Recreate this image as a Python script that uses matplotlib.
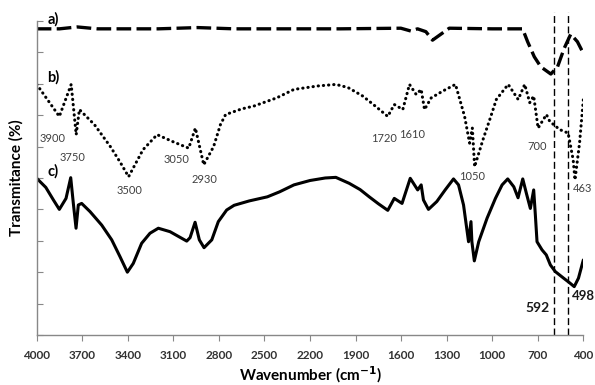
import matplotlib
matplotlib.use("Agg")
import matplotlib.pyplot as plt

plt.rcParams['font.family'] = ['Lato', 'DejaVu Sans']

# Spectrum a) – dashed trace
wn_a = [4000, 3850, 3733, 3600, 3200, 2940, 2700, 2000, 1602, 1536, 1492, 1437,
        1393, 1338, 1283, 1000, 850, 800, 767, 723, 680, 614, 570, 526, 483,
        439, 400]
tr_a = [97.5, 97.5, 98.1, 97.5, 97.5, 97.9, 97.5, 97.5, 97.7, 96.8, 97.5, 96.6,
        93.9, 95.8, 97.7, 97.5, 97.5, 97.5, 93.4, 88.6, 85.4, 83.1, 85.4, 91.3,
        95.8, 93.4, 89.7]

# Spectrum b) – dotted trace
wn_b = [4000, 3851, 3773, 3740, 3719, 3620, 3515, 3450, 3395, 3300, 3207, 3100,
        2999, 2955, 2900, 2835, 2790, 2756, 2650, 2570, 2420, 2306, 2150, 2029,
        1950, 1853, 1760, 1688, 1645, 1589, 1545, 1501, 1468, 1446, 1402, 1325,
        1242, 1182, 1149, 1131, 1116, 1061, 1010, 973, 895, 829, 786, 753, 727,
        698, 643, 621, 555, 500, 467, 455, 425, 400]
tr_b = [79.8, 69.6, 79.8, 63.8, 71.8, 67.0, 60.0, 55.0, 50.4, 59.0, 63.8, 61.5,
        59.5, 65.9, 54.2, 60.0, 67.0, 70.2, 72.0, 72.9, 75.5, 78.2, 79.3, 79.8,
        78.8, 76.1, 72.5, 69.6, 73.4, 71.8, 79.8, 76.6, 78.2, 71.8, 75.5, 77.7,
        79.8, 69.6, 61.1, 65.9, 53.6, 62.2, 69.5, 75.0, 79.8, 75.0, 79.8, 74.0,
        76.1, 65.9, 70.2, 68.0, 65.4, 64.3, 55.8, 49.4, 61.1, 75.0]

# Spectrum c) – solid trace
wn_c = [4000, 3940, 3890, 3851, 3807, 3776, 3759, 3741, 3726, 3704, 3649, 3572,
        3506, 3451, 3403, 3364, 3309, 3254, 3199, 3122, 3012, 2990, 2957, 2929,
        2898, 2847, 2804, 2749, 2700, 2600, 2481, 2400, 2306, 2200, 2100, 2030,
        1942, 1870, 1810, 1750, 1688, 1645, 1594, 1540, 1491, 1468, 1453, 1420,
        1365, 1310, 1255, 1222, 1189, 1156, 1140, 1134, 1118, 1089, 1034, 979,
        935, 898, 858, 830, 799, 775, 749, 727, 716, 705, 672, 644, 617, 585,
        530, 490, 460, 432, 400]
tr_c = [49.9, 47.0, 43.0, 40.0, 43.5, 50.1, 42.0, 34.0, 41.4, 41.9, 39.3, 35.0,
        30.3, 24.9, 20.0, 22.8, 29.2, 32.4, 34.0, 32.9, 29.9, 31.0, 35.9, 30.3,
        27.8, 30.3, 36.1, 39.8, 41.3, 42.7, 44.0, 45.6, 47.8, 49.2, 50.0, 50.2,
        48.3, 46.3, 44.0, 41.8, 39.7, 43.5, 41.9, 49.9, 46.2, 47.8, 43.0, 40.0,
        42.5, 46.2, 49.7, 47.8, 41.4, 29.7, 36.1, 29.7, 23.6, 29.7, 37.2, 43.5,
        47.8, 49.7, 47.2, 43.7, 49.7, 45.1, 40.3, 46.2, 38.2, 29.7, 27.1, 25.5,
        22.3, 20.2, 18.1, 16.6, 15.4, 18.1, 23.9]

x_ticks = [4000, 3700, 3400, 3100, 2800, 2500, 2200, 1900, 1600, 1300, 1000, 700, 400]
marked_bands = [592, 498]

# Band annotations on trace b): (label, x, y)
band_labels_b = [("3900", 3895, 62.5), ("3750", 3765, 56.5), ("3500", 3390, 46.0),
                 ("3050", 3080, 56.0), ("2930", 2895, 49.5), ("1720", 1715, 62.5),
                 ("1610", 1530, 64.0), ("700", 705, 60.0), ("1050", 1135, 50.5),
                 ("463", 405, 46.5)]

fig = plt.figure(figsize=(5.95, 3.85), dpi=100)
ax = fig.add_axes([0.0617, 0.1299, 0.9187, 0.8156])

ax.plot(wn_a, tr_a, color='black', lw=2.4, linestyle=(0, (4.4, 1.6)),
        solid_joinstyle='round')
ax.plot(wn_b, tr_b, color='black', lw=2.2, linestyle=(0, (0.1, 1.6)),
        dash_capstyle='round')
ax.plot(wn_c, tr_c, color='black', lw=2.2, solid_joinstyle='round',
        solid_capstyle='round')

for wn in marked_bands:
    ax.plot([wn, wn], [0, 103], color='black', lw=1.0, linestyle=(0, (5, 2.5)),
            clip_on=False)

ax.text(592 + 30, 8.5, "592", ha='right', va='center', fontsize=10,
        fontweight='bold', color='#1a1a1a')
ax.text(498 - 22, 12.5, "498", ha='left', va='center', fontsize=9.5,
        fontweight='bold', color='#1a1a1a', clip_on=False)

for lab, x, y in band_labels_b:
    ax.text(x, y, lab, ha='center', va='center', fontsize=8, color='#404040')

for lab, y in [("a)", 100.6), ("b)", 82.0), ("c)", 52.0)]:
    ax.text(3930, y, lab, ha='left', va='center', fontsize=10.5,
            fontweight='bold', color='black', clip_on=False)

ax.set_xlim(4000, 400)
ax.set_ylim(0, 100)
ax.set_xticks(x_ticks)
ax.set_xticklabels([str(t) for t in x_ticks], fontsize=8.5, fontweight='bold',
                   color='#333333')
ax.set_yticks(range(0, 101, 10))
ax.set_yticklabels([])
ax.tick_params(axis='x', direction='out', length=4, color='#888888', pad=7)
ax.tick_params(axis='y', direction='in', length=4, color='#888888')

for side in ('top', 'right'):
    ax.spines[side].set_visible(False)
for side in ('left', 'bottom'):
    ax.spines[side].set_color('#888888')
    ax.spines[side].set_linewidth(1.0)

ax.set_xlabel("Wavenumber (cm$^{\\mathbf{-1}}$)", fontsize=11, fontweight='bold',
              labelpad=2)
ax.set_ylabel("Transmitance (%)", fontsize=11, fontweight='bold', labelpad=6)

fig.savefig("out.png", dpi=100)
